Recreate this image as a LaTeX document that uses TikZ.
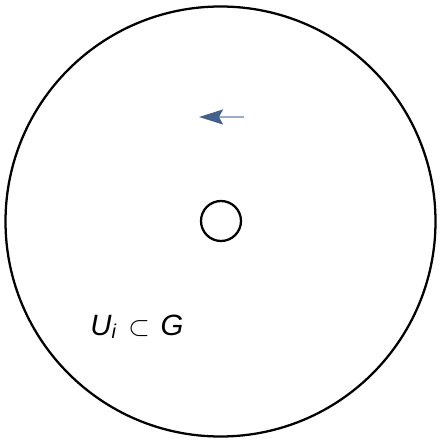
\documentclass[tikz,border=0pt]{standalone}
\usepackage{fontspec}
\setmainfont{Liberation Sans}
\usetikzlibrary{arrows.meta}
\definecolor{headblue}{HTML}{46608E}
\definecolor{shaftblue}{HTML}{9AADCB}
\begin{document}
\begin{tikzpicture}[x=0.75pt,y=-0.75pt,
  ring/.style={draw=black,line width=1.7pt,circle,inner sep=0pt},
  flow/.style={draw=shaftblue,line width=1.4pt,-{Stealth[color=headblue,length=24pt*0.75,width=15pt*0.75,inset=4pt*0.75]}}]
\useasboundingbox (0,0) rectangle (440,442);
\node[ring,minimum size=430*0.75pt] (big) at (220.5,221.5) {};
\node[ring,minimum size=40*0.75pt] (small) at (221,221) {};
\coordinate (a1) at (244,117);
\coordinate (a2) at (199,117);
\draw[flow] (a1) -- (a2);
\node[font=\fontsize{22}{25}\selectfont,inner sep=0pt,anchor=base west] (lbl) at (90,335) {\textit{U}\raisebox{-0.25ex}{\fontsize{15}{17}\selectfont\textit{i}}\hspace{9pt}$\subset$\hspace{8pt}\textit{G}};
\end{tikzpicture}
\end{document}
